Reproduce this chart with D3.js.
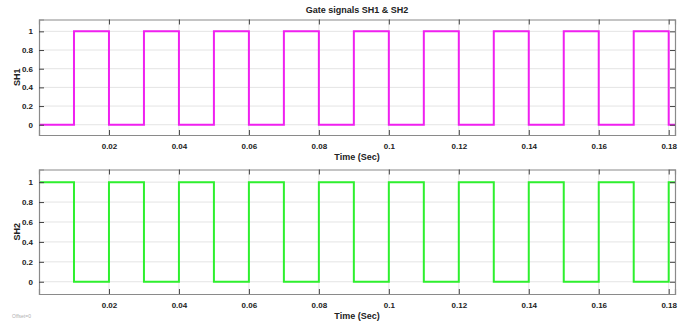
<!DOCTYPE html>
<html>
<head>
<meta charset="utf-8">
<script src="https://cdn.jsdelivr.net/npm/d3@7"></script>
<style>
  html, body { margin: 0; padding: 0; background: #fff; }
  svg { display: block; font-family: Arial, "Liberation Sans", sans-serif; }
</style>
</head>
<body>
<svg id="chart" width="686" height="326"></svg>
<script>
// Switching instants (s) and the gate state that holds from each instant on
const times = [0, 0.01, 0.02, 0.03, 0.04, 0.05, 0.06, 0.07, 0.08, 0.09, 0.10,
               0.11, 0.12, 0.13, 0.14, 0.15, 0.16, 0.17, 0.18, 0.1818];
const sh1 = [0, 1, 0, 1, 0, 1, 0, 1, 0, 1, 0, 1, 0, 1, 0, 1, 0, 1, 0, 0];
const sh2 = [1, 0, 1, 0, 1, 0, 1, 0, 1, 0, 1, 0, 1, 0, 1, 0, 1, 0, 1, 1];
const xTicks = [0.02, 0.04, 0.06, 0.08, 0.1, 0.12, 0.14, 0.16, 0.18];
const yTicks = [0, 0.2, 0.4, 0.6, 0.8, 1];

const svg = d3.select("#chart");
const left = 39, right = 675;

const x = d3.scaleLinear().domain([0, 0.1818]).range([left, right]);

svg.append("text")
  .attr("x", (left + right) / 2).attr("y", 13)
  .attr("text-anchor", "middle")
  .attr("font-size", 9).attr("font-weight", "bold").attr("fill", "#222")
  .text("Gate signals SH1 & SH2");

function panel(top, bottom, values, color, label, yDomain) {
  const y = d3.scaleLinear().domain(yDomain).range([bottom, top]);
  const g = svg.append("g");

  // grid
  g.selectAll(".gx").data(xTicks).join("line")
    .attr("x1", d => x(d)).attr("x2", d => x(d))
    .attr("y1", top).attr("y2", bottom)
    .attr("stroke", "#e4e4e4").attr("stroke-width", 1);
  g.selectAll(".gy").data(yTicks).join("line")
    .attr("x1", left).attr("x2", right)
    .attr("y1", d => y(d)).attr("y2", d => y(d))
    .attr("stroke", "#e4e4e4").attr("stroke-width", 1);

  // signal trace
  const line = d3.line()
    .x(d => x(d[0])).y(d => y(d[1]))
    .curve(d3.curveStepAfter);
  g.append("path")
    .datum(times.map((t, i) => [t, values[i]]))
    .attr("d", line)
    .attr("fill", "none").attr("stroke", color).attr("stroke-width", 2);

  // axes (ticks inward on all four sides)
  const fmt = d => d3.format("~g")(d);
  const axB = g.append("g").attr("transform", `translate(0,${bottom})`)
    .call(d3.axisBottom(x).tickValues(xTicks).tickSize(-5).tickPadding(8).tickFormat(fmt));
  const axT = g.append("g").attr("transform", `translate(0,${top})`)
    .call(d3.axisTop(x).tickValues(xTicks).tickSize(-5).tickFormat(""));
  const axL = g.append("g").attr("transform", `translate(${left},0)`)
    .call(d3.axisLeft(y).tickValues(yTicks).tickSize(-5).tickPadding(6).tickFormat(fmt));
  const axR = g.append("g").attr("transform", `translate(${right},0)`)
    .call(d3.axisRight(y).tickValues(yTicks).tickSize(-5).tickFormat(""));
  [axB, axT, axL, axR].forEach(a => {
    a.select(".domain").attr("stroke", "#8a8a8a").attr("stroke-width", 1.2);
    a.selectAll(".tick line").attr("stroke", "#444");
    a.selectAll("text").attr("font-size", 8).attr("font-weight", "bold")
      .attr("fill", "#222").attr("font-family", "Arial, 'Liberation Sans', sans-serif");
  });

  g.append("text")
    .attr("x", (left + right) / 2).attr("y", bottom + 25)
    .attr("text-anchor", "middle")
    .attr("font-size", 9).attr("font-weight", "bold").attr("fill", "#222")
    .text("Time (Sec)");

  g.append("text")
    .attr("transform", `translate(20,${(top + bottom) / 2}) rotate(-90)`)
    .attr("text-anchor", "middle")
    .attr("font-size", 9).attr("font-weight", "bold").attr("fill", "#222")
    .text(label);
}

panel(19.5, 135, sh1, "#f020f0", "SH1", [-0.11, 1.127]);
panel(169.5, 294, sh2, "#2ef02e", "SH2", [-0.123, 1.127]);

svg.append("text")
  .attr("x", 12).attr("y", 318)
  .attr("font-size", 5).attr("fill", "#b0b0b0")
  .text("Offset=0");
</script>
</body>
</html>
